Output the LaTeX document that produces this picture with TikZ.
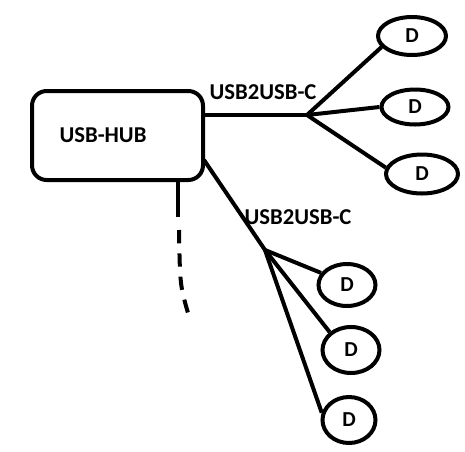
\documentclass[tikz,border=0pt]{standalone}
\usepackage{fontspec}
\setmainfont{Carlito}
\usetikzlibrary{shapes.geometric}
\begin{document}
\begin{tikzpicture}[x=0.75pt,y=-0.75pt,
  wire/.style={line width=3pt},
  hubbox/.style={draw,line width=3pt,rounded corners=11pt,minimum width=128.25pt,minimum height=66.75pt,inner sep=0pt},
  dev/.style={draw,ellipse,line width=3pt,inner sep=0pt,font=\bfseries\fontsize{16}{18}\selectfont},
  lbl/.style={inner sep=0pt,font=\bfseries\fontsize{17}{20}\selectfont}]
\useasboundingbox (0,0) rectangle (465,451);
\node[hubbox] (hub) at (117.5,135.5) {};
\node[lbl] (hubtext) at (103,135) {USB-HUB};
\coordinate (j1) at (307,115);
\coordinate (j2) at (265,250);
\coordinate (hubdiag) at (204,160);
\node[dev,minimum width=51pt,minimum height=28.5pt] (d1) at (412,36) {D};
\node[dev,minimum width=50.25pt,minimum height=26.25pt] (d2) at (415,107) {D};
\node[dev,minimum width=54pt,minimum height=29.25pt] (d3) at (422,174) {D};
\node[dev,minimum width=42.75pt,minimum height=31.5pt] (d4) at (347,285) {D};
\node[dev,minimum width=42.75pt,minimum height=34.5pt] (d5) at (351,350) {D};
\node[dev,minimum width=39.75pt,minimum height=34.5pt] (d6) at (349,420) {D};
\node[lbl] (l1) at (263,92) {USB2USB-C};
\node[lbl] (l2) at (298,217) {USB2USB-C};
\draw[wire] (j1 -| hub.east) -- (j1);
\draw[wire] (j1) -- (d1.200);
\draw[wire] (j1) -- (d2.west);
\draw[wire] (j1) -- (d3.170);
\draw[wire] (hubdiag) -- (j2);
\draw[wire] (j2) -- (d4.155);
\draw[wire] (j2) -- (d5.140);
\draw[wire] (j2) -- (d6.165);
\coordinate (t1) at (178,217);
\coordinate (t2) at (179,230);
\coordinate (t3) at (188,313);
\draw[wire] (t1 |- hub.south) -- (t1);
\draw[wire,dash pattern=on 10pt off 7.5pt] (t2) .. controls (180,285) .. (t3);
\end{tikzpicture}
\end{document}
